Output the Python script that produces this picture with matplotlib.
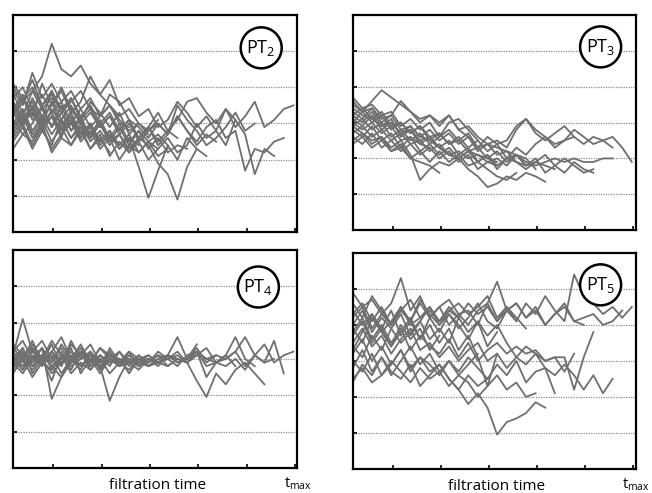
import numpy as np
import matplotlib
matplotlib.use("Agg")
import matplotlib.pyplot as plt
from matplotlib.patches import Ellipse

plt.rcParams["font.family"] = ["Open Sans", "DejaVu Sans"]
plt.rcParams["mathtext.default"] = "regular"

# sampling of the filtration time axis (in tick units)
X0 = 0.17
STEP = 0.2

panel_labels = ["PT$_2$", "PT$_3$", "PT$_4$", "PT$_5$"]
tick_positions = [1, 2, 3, 4, 5, 6]
grid_levels = [1, 2, 3, 4, 5]

pt2_series = [
    [3.6, 3.2, 3.9, 3.4, 3.7, 3.1, 3.5, 3.0, 3.3, 2.9, 3.2, 2.7, 3.0, 2.6, 2.9, 3.3, 2.8, 3.1, 3.6, 3.7, 3.3, 3.0, 3.4, 2.9, 3.2, 3.6, 2.9, 3.1, 3.4, 3.5],
    [3.0, 3.4, 2.8, 3.2, 2.7, 3.1, 2.6, 3.0, 2.5, 2.8, 2.4, 2.7, 2.3, 2.6, 2.9, 2.4, 2.7, 3.2, 2.8, 2.5, 2.9, 3.1, 2.6, 2.8, 1.7, 2.3, 2.2, 2.5, 2.6],
    [3.3, 2.9, 3.5, 3.0, 3.3, 2.8, 3.2, 2.6, 3.0, 2.5, 2.8, 2.4, 2.7, 2.2, 2.5, 2.3, 2.6, 2.2, 2.4, 3.0, 2.6, 2.8, 2.4, 3.1, 2.7, 1.6, 2.3, 2.1],
    [4.0, 3.6, 4.2, 3.5, 3.9, 3.3, 3.7, 3.1, 3.4, 2.9, 3.2, 2.8, 3.1, 2.5, 2.8, 3.0, 2.7, 3.5, 3.1, 2.8, 2.4, 2.6, 2.9, 3.3, 2.8, 3.0],
    [3.2, 3.6, 3.9, 4.3, 5.2, 4.5, 4.3, 4.6, 4.1, 3.8, 4.2, 3.5, 3.7, 3.2, 3.4, 2.9, 3.1, 3.6, 3.3, 2.9, 3.2, 2.8, 3.4, 3.1],
    [3.5, 3.1, 3.4, 2.8, 3.2, 2.7, 3.0, 2.6, 2.9, 2.4, 2.7, 2.3, 2.6, 1.8, 0.95, 1.7, 2.4, 2.0, 2.6, 2.3],
    [2.9, 3.3, 2.7, 3.1, 2.5, 2.9, 2.4, 2.8, 2.3, 2.7, 2.1, 2.5, 2.2, 2.6, 2.4, 1.9, 1.6, 0.9, 1.8, 2.3, 2.1],
    [3.8, 3.3, 3.6, 3.1, 3.9, 3.4, 3.7, 3.2, 3.5, 3.0, 3.3, 2.8, 3.1, 2.6, 2.9, 2.5, 2.8, 2.6],
    [2.6, 3.0, 2.4, 2.9, 2.3, 2.7, 3.1, 2.5, 2.8, 2.3, 2.6, 2.0, 2.4, 2.2, 2.5, 2.1, 2.3],
    [3.4, 3.8, 3.2, 4.1, 3.5, 3.9, 3.3, 3.6, 4.3, 3.8, 3.5, 3.2, 3.4, 3.0, 2.8, 3.1],
    [4.1, 3.7, 4.0, 3.5, 3.8, 3.3, 3.6, 3.9, 3.4, 3.2, 3.5, 3.1, 2.8, 3.0, 2.7],
    [2.8, 3.2, 2.6, 3.0, 3.6, 2.9, 3.3, 2.7, 3.0, 2.5, 2.8, 2.3, 2.6, 2.4],
    [3.9, 3.5, 4.4, 3.7, 4.1, 3.6, 3.9, 3.4, 3.7, 3.2, 3.5, 3.0, 2.9],
    [3.1, 2.7, 3.0, 3.5, 2.9, 3.3, 2.8, 3.2, 2.6, 3.0, 2.5, 2.7],
    [3.7, 4.0, 3.4, 3.8, 3.3, 3.6, 3.0, 3.4, 2.9, 3.2, 3.8, 3.6, 3.1, 2.9, 2.6, 3.0, 2.7, 3.2, 2.8, 2.4, 2.7, 2.5],
    [3.3, 3.7, 3.1, 3.4, 2.9, 3.5, 2.8, 3.1, 2.7, 3.0, 2.5, 2.9, 2.4, 2.8, 2.3, 2.6, 2.2, 2.4, 2.3],
    [3.6, 3.0, 3.3, 2.8, 3.4, 3.0, 3.2, 2.7, 2.9, 2.5],
    [2.5, 2.9, 2.3, 2.8, 2.4, 3.1, 2.6, 2.9, 2.3, 2.6, 2.2],
    [2.3, 2.7, 2.5, 3.0, 2.2, 2.6, 2.4, 2.9, 2.6, 3.0, 2.5, 2.7, 2.2, 2.5, 2.0, 2.3],
    [3.4, 3.0, 3.7, 3.2, 3.5, 4.0, 3.4, 3.1, 3.6, 3.3, 2.9, 3.3, 2.7, 3.0],
    [2.7, 3.1, 3.4, 2.9, 3.2, 2.6, 3.4, 3.0, 2.7, 3.1, 2.6, 3.0, 2.5, 2.8, 2.5, 2.7, 2.4],
]

pt3_series = [
    [3.1, 2.9, 3.2, 2.8, 3.0, 2.7, 2.9, 2.6, 2.8, 2.5, 2.7, 2.4, 2.6, 2.2, 2.4, 2.5, 2.3, 2.8, 3.1, 2.7, 2.5, 2.7, 2.9, 2.6, 2.4, 2.6, 2.5, 2.6, 2.3, 1.9],
    [3.5, 3.3, 3.0, 3.2, 2.8, 3.0, 2.7, 2.9, 2.5, 2.7, 2.4, 2.6, 2.3, 2.5, 2.2, 2.4, 2.0, 2.3, 2.1, 2.4, 2.6, 2.3, 2.5, 2.8, 2.6, 2.4, 2.5, 2.3],
    [2.8, 2.6, 2.9, 2.5, 2.7, 2.3, 2.6, 2.2, 2.4, 2.1, 2.3, 2.0, 2.2, 1.9, 2.1, 1.8, 2.0, 2.1, 1.9, 1.8, 1.9, 2.0, 1.9, 2.0, 1.9, 1.9, 2.0, 2.0],
    [3.2, 3.0, 3.3, 2.9, 3.1, 2.6, 2.8, 2.4, 2.6, 2.3, 2.5, 2.1, 2.3, 1.9, 2.1, 1.7, 2.0, 1.9, 1.7, 1.9, 2.1, 1.8, 1.6, 1.9, 1.7, 1.6],
    [2.6, 2.4, 2.7, 2.3, 2.5, 2.2, 2.4, 2.1, 2.3, 2.0, 2.2, 1.9, 2.1, 1.7, 1.9, 2.0, 1.8, 2.1, 1.8, 2.0, 1.6, 1.8, 2.0, 1.8, 1.6, 1.7],
    [3.0, 3.3, 3.6, 3.9, 3.7, 3.5, 3.3, 3.1, 3.2, 2.9, 3.2, 2.8, 2.6, 2.3, 2.6, 2.4, 2.5, 2.9, 3.1, 2.8, 2.6, 2.4, 2.5, 2.6],
    [2.9, 2.7, 2.5, 2.6, 2.3, 2.5, 2.1, 1.4, 1.7, 1.9, 1.8, 2.0, 1.7, 1.5, 1.2, 1.3, 1.5, 1.4, 1.6, 1.5, 1.35],
    [3.7, 3.4, 3.5, 3.2, 3.3, 2.9, 3.1, 2.8, 3.0, 2.6, 2.8, 2.5, 2.7, 2.3, 2.4, 2.1, 2.2, 1.9, 1.8, 1.9],
    [3.3, 3.1, 3.4, 3.0, 3.2, 3.6, 3.3, 3.0, 3.2, 3.0, 3.2, 2.8, 2.9, 2.6, 2.4, 2.3, 2.2, 2.1, 2.0, 1.7],
    [2.5, 2.7, 2.4, 2.6, 2.2, 2.4, 2.0, 2.2, 1.9, 2.2, 1.9, 2.1, 1.8, 1.9, 1.7, 1.5, 1.4, 1.6],
    [3.4, 3.2, 3.1, 2.9, 3.0, 2.7, 2.8, 2.5, 2.6, 2.3, 2.1, 2.0, 2.2, 2.1, 2.0, 1.9],
    [2.9, 3.1, 2.8, 3.0, 2.6, 2.8, 2.5, 2.7, 2.4, 2.6, 3.0, 3.1, 2.8, 2.5],
    [3.6, 3.3, 3.4, 3.1, 3.2, 2.8, 2.9, 2.6, 2.5, 2.3, 2.1, 2.0],
    [2.4, 2.6, 2.3, 2.5, 2.2, 2.3, 2.0, 1.9, 1.8, 1.6],
    [3.0, 2.8, 3.0, 2.7, 2.9, 2.5, 2.6, 2.4, 2.3],
    [3.2, 3.4, 3.1, 3.3, 2.9, 3.0, 2.7, 2.9, 2.6, 2.7, 2.4, 2.5, 2.2, 2.3, 2.0, 2.2, 1.9, 2.1, 1.8, 1.9, 1.8, 1.7],
    [2.7, 2.9, 2.6, 2.8, 2.5, 2.7, 2.4, 2.5, 2.2, 2.4, 2.1, 2.2, 2.0, 2.1, 1.9, 1.8],
]

pt4_series = [
    [3.0, 3.3, 2.8, 3.1, 2.9, 3.2, 2.8, 3.0, 3.1, 2.9, 3.2, 2.8, 3.0, 2.9, 3.1, 2.9, 3.0, 3.2, 2.9, 3.1, 3.3, 2.9, 3.0, 3.2, 2.8, 3.1, 3.4, 2.9, 3.1, 3.2],
    [2.8, 3.2, 2.9, 3.3, 2.7, 3.0, 3.2, 2.8, 3.1, 2.7, 3.0, 2.8, 3.1, 2.9, 2.8, 3.0, 3.1, 3.6, 3.0, 3.2, 2.5, 2.9, 2.8, 3.0, 2.7, 3.1, 2.9, 3.5, 2.6],
    [3.1, 4.1, 3.2, 2.9, 3.4, 2.8, 3.5, 3.0, 3.2, 2.7, 3.3, 2.9, 3.1, 2.9, 3.0, 2.8, 3.1, 2.9, 3.0, 3.3, 2.9, 3.1, 3.0, 3.2, 3.6, 3.1, 2.9, 3.0],
    [2.9, 2.6, 3.0, 3.3, 1.9, 2.5, 3.0, 2.7, 3.2, 2.8, 3.0, 2.9, 2.7, 3.0, 2.9, 3.1, 2.8, 3.0, 2.9, 2.4, 1.95, 2.6, 2.3, 2.7, 2.9, 2.6, 2.3],
    [3.2, 2.9, 3.4, 3.0, 3.5, 3.1, 2.9, 3.2, 3.0, 2.8, 3.1, 2.9, 3.2, 3.0, 2.9, 3.1, 3.0, 2.8, 3.1, 3.2, 2.8, 2.9, 3.1, 3.6, 3.0, 2.8],
    [3.0, 2.7, 3.1, 2.8, 3.2, 2.9, 3.3, 2.6, 3.0, 2.8, 1.85, 2.5, 3.0, 2.8, 3.0, 2.9, 3.1, 3.0, 2.9, 3.2, 3.0, 2.9, 3.1, 2.8],
    [3.3, 3.0, 3.5, 2.9, 3.2, 2.8, 3.4, 3.1, 2.9, 3.3, 3.0, 3.2, 2.8, 3.1, 2.9, 3.2, 3.0, 3.1, 2.9, 3.2, 3.0, 3.1],
    [2.7, 3.1, 2.8, 3.0, 2.6, 2.9, 3.1, 2.8, 3.0, 2.6, 3.0, 2.8, 2.9, 2.7, 3.0, 2.9, 2.8, 3.0, 2.9, 3.1],
    [3.4, 3.1, 3.3, 2.9, 3.2, 3.6, 3.0, 3.4, 2.9, 3.3, 3.1, 2.9, 3.2, 2.8, 3.0, 2.9, 3.1, 3.0],
    [2.9, 3.3, 2.6, 3.0, 2.4, 3.1, 2.7, 3.2, 2.8, 3.1, 2.9, 3.0, 2.6, 3.0, 2.8, 2.9],
    [3.1, 2.8, 3.2, 3.5, 3.0, 3.3, 2.9, 3.1, 3.4, 2.9, 3.2, 2.8, 3.0, 2.9, 3.0],
    [2.6, 3.0, 2.7, 3.1, 2.8, 2.5, 2.9, 3.2, 2.7, 3.0, 2.6, 2.9, 3.0, 2.8],
    [3.2, 3.5, 3.0, 3.3, 2.9, 3.4, 3.0, 3.2, 2.8, 3.1, 2.9, 3.0],
    [3.0, 3.2, 2.9, 3.1, 2.8, 3.1, 2.9, 3.0, 3.2, 2.9, 3.1, 3.0, 2.9, 3.1, 2.8, 3.0, 3.1, 2.9, 3.0, 3.4],
    [2.8, 3.0, 2.5, 2.9, 2.7, 3.1, 2.6, 2.9, 2.7, 3.0],
    [3.1, 2.7, 3.3, 2.9, 3.1, 2.6, 3.0, 3.3, 2.9, 3.1, 2.8, 3.2, 2.9, 3.0, 3.1, 2.9, 3.0],
]

pt5_series = [
    [4.3, 4.6, 4.1, 4.5, 4.0, 4.4, 4.7, 4.2, 4.5, 4.1, 4.4, 4.6, 4.3, 4.5, 4.8, 4.2, 4.5, 4.1, 4.6, 4.3, 4.8, 4.4, 4.1, 5.4, 4.8, 4.6, 4.3, 4.5, 4.2, 4.5],
    [4.0, 4.4, 3.8, 4.2, 3.9, 4.3, 3.7, 4.1, 4.5, 4.0, 4.3, 3.9, 4.2, 4.6, 4.1, 3.9, 4.4, 4.6, 4.2, 4.5, 4.0, 4.3, 4.6, 4.1, 4.2, 4.3, 4.0, 4.1, 4.4],
    [3.5, 3.9, 3.4, 3.7, 3.2, 3.6, 3.9, 3.3, 3.5, 3.1, 3.4, 3.0, 3.3, 3.5, 3.0, 3.2, 2.8, 3.1, 2.9, 3.2, 2.8, 2.6, 2.9, 2.6, 2.2, 2.6, 2.1, 2.5],
    [3.8, 4.2, 3.6, 4.0, 3.5, 3.9, 3.3, 3.7, 3.4, 3.2, 3.6, 3.1, 3.5, 3.0, 3.3, 3.5, 3.2, 3.4, 3.2, 3.3, 3.0, 3.1, 3.1, 2.2, 3.1, 3.8],
    [3.0, 2.7, 3.2, 2.6, 2.9, 3.3, 2.8, 3.1, 2.7, 2.9, 2.5, 2.2, 1.8, 2.1, 1.7, 0.95, 1.3, 1.4, 1.55, 1.85, 1.7],
    [2.5, 2.8, 2.4, 2.6, 3.0, 2.7, 2.4, 2.8, 2.5, 2.7, 2.3, 2.6, 2.4, 2.0, 2.3, 2.6, 2.2, 2.4, 2.0, 2.1],
    [4.9, 4.5, 4.7, 4.3, 4.6, 5.3, 4.4, 4.8, 4.2, 4.5, 4.7, 4.3, 4.0, 4.4, 4.6, 4.1, 4.5, 4.2, 3.9],
    [3.2, 3.6, 3.0, 3.4, 2.9, 3.3, 2.7, 3.1, 2.9, 2.6, 3.0, 2.7, 3.1, 2.8, 2.5, 2.9, 2.6, 3.0, 2.4, 2.7, 2.8, 2.1],
    [4.2, 4.5, 3.9, 4.3, 4.0, 4.4, 4.1, 4.6, 4.2, 4.5, 4.0, 4.3, 4.4, 4.0, 4.6, 5.2, 4.4, 4.1],
    [3.7, 4.1, 3.5, 3.9, 3.4, 3.8, 4.2, 3.6, 4.0, 3.5, 3.9, 3.3, 3.7, 3.1, 2.3, 3.2],
    [2.8, 3.3, 2.7, 3.1, 2.6, 3.0, 3.4, 2.9, 3.2, 2.7, 3.0, 2.6, 2.9, 3.2],
    [3.4, 3.1, 3.7, 3.3, 3.9, 3.5, 3.8, 4.1, 3.6, 3.9, 3.5, 4.2, 3.8, 4.1, 3.7, 4.0, 3.5, 3.1, 3.4, 3.2, 3.0, 3.1, 2.7, 3.2],
    [4.6, 4.2, 4.8, 4.4, 4.0, 4.5, 4.1, 4.7, 4.3, 4.0, 4.4, 4.2],
    [2.4, 2.9, 2.6, 3.1, 2.7, 2.5, 2.9, 2.3, 2.6, 2.9, 2.5, 2.2, 2.6, 2.3, 2.5],
    [3.9, 3.5, 4.2, 3.8, 3.4, 4.0, 3.6, 3.9, 3.3, 3.7],
    [4.4, 4.0, 4.3, 3.8, 4.1, 4.5, 4.0, 4.2, 4.4, 4.1, 4.5, 4.2, 4.6, 4.3, 4.5, 4.1, 4.4, 4.6, 4.2, 4.4, 4.0, 4.3, 4.5, 4.1, 4.0],
    [3.3, 3.8, 4.3, 3.9, 4.4, 3.7, 4.1, 3.6, 4.2, 3.8, 4.3, 4.0, 3.6, 4.1, 3.4, 3.8],
]

all_series = [pt2_series, pt3_series, pt4_series, pt5_series]

# axes rectangles in figure fraction [left, bottom, width, height]
rects = [
    [0.020, 0.529, 0.436, 0.441],
    [0.541, 0.533, 0.434, 0.437],
    [0.020, 0.051, 0.436, 0.442],
    [0.541, 0.049, 0.434, 0.438],
]
badge_pos = [(0.873, 0.848), (0.876, 0.851), (0.863, 0.830), (0.876, 0.852)]

fig = plt.figure(figsize=(6.52, 4.93), dpi=100)

for k in range(4):
    ax = fig.add_axes(rects[k])
    for ys in all_series[k]:
        xs = X0 + STEP * np.arange(len(ys))
        ax.plot(xs, ys, color="#6f6f6f", lw=1.3, zorder=2)

    for g in grid_levels:
        ax.axhline(g, color="#8c8c8c", lw=0.9, ls=(0, (1, 1)), zorder=1)

    ax.set_xlim(X0, 6.05)
    ax.set_ylim(0, 6)
    ax.set_xticks(tick_positions)
    ax.set_yticks(grid_levels)
    ax.tick_params(direction="in", length=3, width=1.2, labelbottom=False, labelleft=False)
    for sp in ax.spines.values():
        sp.set_linewidth(1.6)
        sp.set_color("black")

    # circled panel label
    w_px = rects[k][2] * 652
    h_px = rects[k][3] * 493
    bx, by = badge_pos[k]
    ax.add_patch(Ellipse((bx, by), 41 / w_px, 41 / h_px, transform=ax.transAxes,
                         facecolor="white", edgecolor="black", lw=1.8, zorder=5))
    ax.text(bx, by, panel_labels[k], transform=ax.transAxes, ha="center", va="center",
            fontsize=13, zorder=6)

    if k >= 2:
        ax.text(0.51, -0.045, "filtration time", transform=ax.transAxes,
                ha="center", va="top", fontsize=11)
        ax.text(0.952, -0.035, "t$_{max}$", transform=ax.transAxes,
                ha="left", va="top", fontsize=10.5)

fig.savefig("out.png", dpi=100)
